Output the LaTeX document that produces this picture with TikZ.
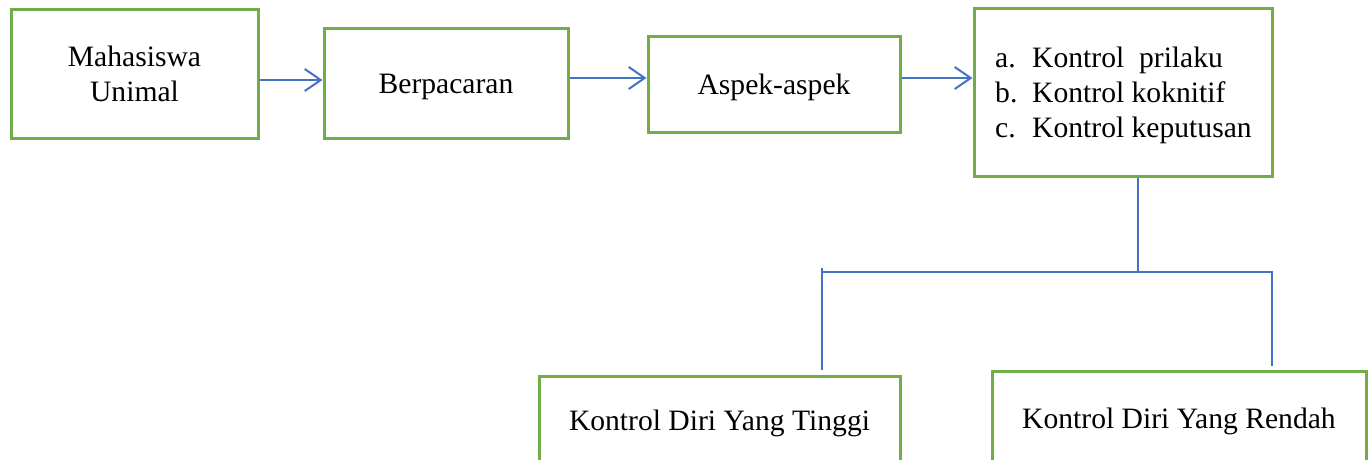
\documentclass[tikz,border=0pt]{standalone}
\usepackage{fontspec}
\setmainfont{Liberation Serif}
\usetikzlibrary{arrows.meta}
\definecolor{boxgreen}{HTML}{70AD47}
\definecolor{lineblue}{HTML}{4472C4}
\newcommand{\lowr}[1]{\raisebox{-3.5pt}[\height][\depth]{#1}}
\begin{document}
\begin{tikzpicture}[x=1pt,y=-1pt,
  box/.style={draw=boxgreen,line width=3pt,rectangle,inner sep=0pt,align=center,
    font=\fontsize{29.6}{35}\selectfont},
  flow/.style={draw=lineblue,line width=2pt,-{Straight Barb[length=16pt,width=22pt,line width=2pt]}},
  link/.style={draw=lineblue,line width=1.2pt}]
\clip (0,0) rectangle (1368,459);
\fill[white] (0,0) rectangle (1368,459);
\node[box,minimum width=247pt,minimum height=129pt] (mhs) at (134.5,73.5) {Mahasiswa\\Unimal};
\node[box,minimum width=244pt,minimum height=110pt] (pac) at (446,83) {\lowr{Berpacaran}};
\node[box,minimum width=252pt,minimum height=96pt] (asp) at (774,84) {\lowr{Aspek-aspek}};
\node[box,minimum width=298pt,minimum height=168pt] (kon) at (1123,92) {};
\node[font=\fontsize{29.6}{35}\selectfont,align=left,anchor=west,inner sep=0pt] (list) at (995,95)
  {\makebox[37pt][l]{a.}Kontrol\ \ prilaku\\\makebox[37pt][l]{b.}Kontrol koknitif\\\makebox[37pt][l]{c.}Kontrol keputusan};
\node[box,minimum width=361pt,minimum height=88pt] (tinggi) at (719.5,420) {\lowr{Kontrol Diri Yang Tinggi}};
\node[box,minimum width=374pt,minimum height=94pt] (rendah) at (1179,418) {\lowr{Kontrol Diri Yang Rendah}};
\draw[flow] (mhs.east |- 0,80) -- (pac.west |- 0,80);
\draw[flow] (pac.east |- 0,78) -- (asp.west |- 0,78);
\draw[flow] (asp.east |- 0,78) -- (kon.west |- 0,78);
\coordinate (j) at (1138,272);
\coordinate (jl) at (822,272);
\coordinate (jr) at (1272,272);
\draw[link] (kon.south -| j) -- (j);
\draw[link] (j) -- (jl);
\draw[link] (j) -- (jr) -- ([yshift=4pt]rendah.north -| jr);
\draw[link] (822,268) -- ([yshift=5pt]tinggi.north -| jl);
\end{tikzpicture}
\end{document}
